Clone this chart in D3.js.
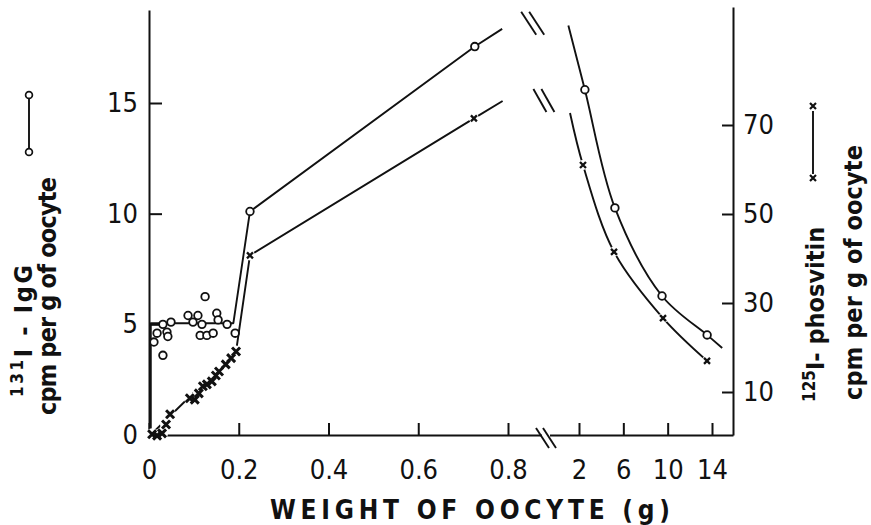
<!DOCTYPE html>
<html>
<head>
<meta charset="utf-8">
<script src="https://cdn.jsdelivr.net/npm/d3@7"></script>
<style>
  html, body { margin: 0; padding: 0; background: #fff; }
  svg { display: block; }
  text { font-family: "Liberation Sans Narrow", "DejaVu Sans Condensed", "Arial Narrow", sans-serif; fill: #111; }
</style>
</head>
<body>
<svg id="chart" width="871" height="525"></svg>
<script>
// 131I-IgG, small oocytes (open circles), cpm per g (left axis)
const iggWeight = [0.011, 0.018, 0.031, 0.040, 0.042, 0.031, 0.049, 0.087, 0.098, 0.109,
  0.118, 0.114, 0.129, 0.143, 0.125, 0.151, 0.154, 0.174, 0.192, 0.225, 0.726];
const iggCpm = [4.2, 4.6, 5.0, 4.65, 4.45, 3.6, 5.1, 5.4, 5.1, 5.4,
  5.0, 4.5, 4.5, 4.6, 6.25, 5.5, 5.2, 5.0, 4.6, 10.1, 17.55];
// drawn line through the IgG points
const iggLineWeight = [0.004, 0.004, 0.188, 0.225, 0.726, 0.787];
const iggLineCpm = [0, 5.05, 5.05, 10.1, 17.55, 18.35];

// 125I-phosvitin, small oocytes (crosses), cpm per g (right axis)
const phosWeight = [0.007, 0.018, 0.029, 0.038, 0.047, 0.091, 0.102, 0.111, 0.120, 0.129,
  0.140, 0.149, 0.156, 0.171, 0.183, 0.194];
const phosCpm = [0.5, 0.2, 0.7, 2.7, 5.0, 8.6, 8.3, 9.7, 11.3, 11.7,
  12.4, 13.7, 14.6, 16.2, 17.6, 19.1];
const phosMidWeight = [0.225, 0.724];
const phosMidCpm = [40.7, 71.5];
const phosLineWeight = [0.0, 0.194, 0.225, 0.724, 0.788];
const phosLineCpm = [0, 19.1, 40.7, 71.5, 75.4];

// large oocytes (after the axis break)
const iggBigWeight = [2.53, 5.24, 9.49, 13.56];
const iggBigCpm = [15.6, 10.26, 6.28, 4.52];
const iggCurveWeight = [1.04, 2.53, 5.24, 9.49, 13.56, 14.92];
const iggCurveCpm = [18.5, 15.6, 10.26, 6.28, 4.52, 3.93];

const phosBigWeight = [2.36, 5.16, 9.58, 13.55];
const phosBigCpm = [61.0, 41.5, 26.6, 17.0];
const phosCurveWeight = [1.19, 2.36, 5.16, 9.58, 13.55];
const phosCurveCpm = [72.7, 61.0, 41.5, 26.6, 17.0];

// tick labels
const xTicksSmall = [0, 0.2, 0.4, 0.6, 0.8];
const xTicksLarge = [2, 6, 10, 14];
const yTicksLeft = [0, 5, 10, 15];
const yTicksRight = [10, 30, 50, 70];

const svg = d3.select("#chart");
const ink = "#111";

const xL = d3.scaleLinear().domain([0, 0.8]).range([149, 508]);
const xR = d3.scaleLinear().domain([2, 14]).range([579, 712]);
const yL = d3.scaleLinear().domain([0, 15]).range([435, 103]);
const yR = d3.scaleLinear().domain([10, 70]).range([392, 125]);

const breakPx = 548;
const rightEdge = 733;
const topLeft = 10;
const topRight = 7;

// axes
const xLAxis = d3.scaleLinear().domain([0, xL.invert(breakPx)]).range([xL(0), breakPx]);
const xRAxis = d3.scaleLinear().domain([xR.invert(breakPx), xR.invert(rightEdge)]).range([breakPx, rightEdge]);
const yLAxis = d3.scaleLinear().domain([0, yL.invert(topLeft)]).range([yL(0), topLeft]);
const yRAxis = d3.scaleLinear().domain([yR.invert(yL(0)), yR.invert(topRight)]).range([yL(0), topRight]);

function styleAxis(sel) {
  sel.selectAll("path, line").attr("stroke", ink).attr("stroke-width", 2);
  sel.selectAll("text").style("font-size", "27px").attr("fill", ink);
}

svg.append("g")
  .attr("transform", `translate(0,${yL(0)})`)
  .call(d3.axisBottom(xLAxis).tickValues(xTicksSmall)
    .tickFormat(d => d === 0 ? "0" : d.toFixed(1))
    .tickSizeInner(-12).tickSizeOuter(0).tickPadding(25))
  .call(styleAxis);

svg.append("g")
  .attr("transform", `translate(0,${yL(0)})`)
  .call(d3.axisBottom(xRAxis).tickValues(xTicksLarge)
    .tickFormat(d3.format("d"))
    .tickSizeInner(-12).tickSizeOuter(0).tickPadding(25))
  .call(styleAxis);

svg.append("g")
  .attr("transform", `translate(${xL(0)},0)`)
  .call(d3.axisLeft(yLAxis).tickValues(yTicksLeft)
    .tickFormat(d3.format("d"))
    .tickSizeInner(-13).tickSizeOuter(0).tickPadding(11))
  .call(styleAxis);

svg.append("g")
  .attr("transform", `translate(${rightEdge},0)`)
  .call(d3.axisRight(yRAxis).tickValues(yTicksRight)
    .tickFormat(d3.format("d"))
    .tickSizeInner(-11).tickSizeOuter(0).tickPadding(10))
  .call(styleAxis);

// lines
const zip = (xs, ys) => xs.map((x, i) => [x, ys[i]]);

function drawLine(pts, sx, sy, curve) {
  svg.append("path")
    .datum(pts)
    .attr("d", d3.line().x(d => sx(d[0])).y(d => sy(d[1])).curve(curve || d3.curveLinear))
    .attr("fill", "none")
    .attr("stroke", ink)
    .attr("stroke-width", 1.9)
    .attr("stroke-linejoin", "round");
}

drawLine(zip(iggLineWeight, iggLineCpm), xL, yL);
drawLine(zip(phosLineWeight, phosLineCpm), xL, yR);
drawLine(zip(iggCurveWeight, iggCurveCpm), xR, yL, d3.curveCatmullRom.alpha(0.5));
drawLine(zip(phosCurveWeight, phosCurveCpm), xR, yR, d3.curveCatmullRom.alpha(0.5));

// break marks
function breakMark(cx, cy, dx, dy, gap) {
  [-gap / 2, gap / 2].forEach(o => {
    svg.append("line")
      .attr("x1", cx + o - dx / 2).attr("y1", cy - dy / 2)
      .attr("x2", cx + o + dx / 2).attr("y2", cy + dy / 2)
      .attr("stroke", ink).attr("stroke-width", 1.9);
  });
}
breakMark(xL(0.855), yL(18.6), 15, 23, 8);
breakMark(xL(0.88), yR(75.5), 13, 23, 8);
svg.append("rect")
  .attr("x", breakPx - 6).attr("y", yL(0) - 2).attr("width", 8).attr("height", 4)
  .attr("fill", "#fff");
breakMark(breakPx - 2, yL(0) + 3, 13, 20, 7);

// markers
function crosses(pts, sx, sy, size, width) {
  svg.append("g").selectAll("circle")
    .data(pts).join("circle")
    .attr("cx", d => sx(d[0])).attr("cy", d => sy(d[1]))
    .attr("r", size + 2).attr("fill", "#fff");
  svg.append("g").selectAll("path")
    .data(pts).join("path")
    .attr("transform", d => `translate(${sx(d[0])},${sy(d[1])})`)
    .attr("d", `M${-size},${-size}L${size},${size}M${-size},${size}L${size},${-size}`)
    .attr("stroke", ink).attr("stroke-width", width);
}

function rings(pts, sx, sy) {
  svg.append("g").selectAll("circle")
    .data(pts).join("circle")
    .attr("cx", d => sx(d[0])).attr("cy", d => sy(d[1]))
    .attr("r", 3.8)
    .attr("fill", "#fff")
    .attr("stroke", ink).attr("stroke-width", 1.8);
}

crosses(zip(phosWeight, phosCpm), xL, yR, 4, 3);
crosses(zip(phosMidWeight, phosMidCpm), xL, yR, 3, 2.3);
crosses(zip(phosBigWeight, phosBigCpm), xR, yR, 3, 2.3);
rings(zip(iggWeight, iggCpm), xL, yL);
rings(zip(iggBigWeight, iggBigCpm), xR, yL);

// legend keys
svg.append("line").attr("x1", 29).attr("y1", 95).attr("x2", 29).attr("y2", 152)
  .attr("stroke", ink).attr("stroke-width", 1.9);
svg.append("g").selectAll("circle").data([95, 152]).join("circle")
  .attr("cx", 29).attr("cy", d => d).attr("r", 3.4)
  .attr("fill", "#fff").attr("stroke", ink).attr("stroke-width", 1.7);

svg.append("line").attr("x1", 813).attr("y1", 111).attr("x2", 813).attr("y2", 174)
  .attr("stroke", ink).attr("stroke-width", 1.9);
svg.append("g").selectAll("path").data([106, 178]).join("path")
  .attr("transform", d => `translate(813,${d})`)
  .attr("d", "M-3,-3L3,3M-3,3L3,-3")
  .attr("stroke", ink).attr("stroke-width", 2.2);

// axis titles
function rotatedTitle(x, y, parts, len) {
  const t = svg.append("text")
    .attr("transform", `translate(${x},${y}) rotate(-90)`)
    .style("font-size", "25px")
    .style("font-weight", "bold");
  parts.forEach(p => {
    t.append("tspan")
      .attr("dy", p.dy || 0)
      .style("font-size", p.size || null)
      .text(p.text);
  });
  if (len) t.attr("textLength", len).attr("lengthAdjust", "spacing");
  return t;
}

rotatedTitle(32, 397, [
  { text: "131", size: "17px", dy: -9 },
  { text: "I - IgG", dy: 9 }
], 132);
rotatedTitle(56, 415, [{ text: "cpm per g of oocyte" }], 238);

rotatedTitle(824, 402, [
  { text: "125", size: "17px", dy: -9 },
  { text: "I- phosvitin", dy: 9 }
]);
rotatedTitle(862, 400, [{ text: "cpm per g of oocyte" }], 255);

svg.append("text")
  .attr("x", 470).attr("y", 519)
  .attr("text-anchor", "middle")
  .attr("textLength", 400).attr("lengthAdjust", "spacing")
  .style("font-size", "26px")
  .style("font-weight", "bold")
  .text("WEIGHT OF OOCYTE (g)");
</script>
</body>
</html>
